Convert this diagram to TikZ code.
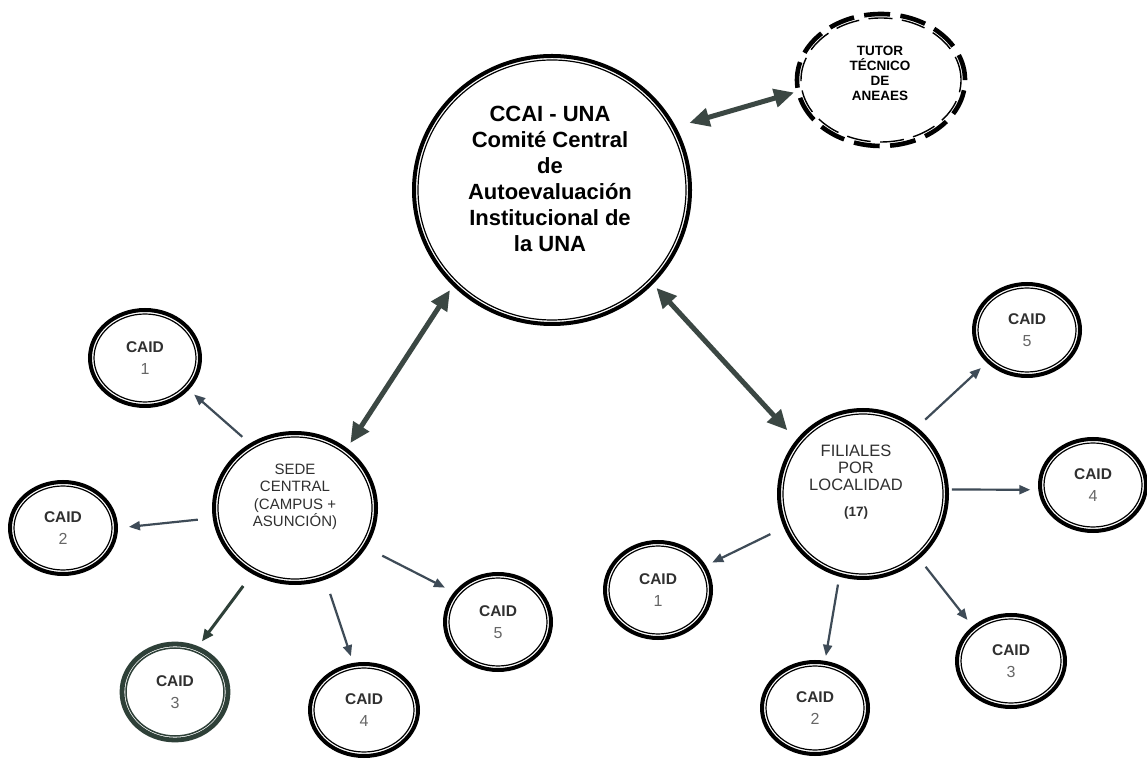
\documentclass[tikz,border=0pt]{standalone}
\usepackage{fontspec}
\setmainfont{Liberation Sans}
\usetikzlibrary{shapes.geometric,arrows.meta}
\definecolor{arrowdark}{HTML}{3B4743}
\definecolor{arrowblue}{HTML}{3E4B57}
\definecolor{greenring}{HTML}{2E4038}
\definecolor{numgray}{HTML}{666666}
\definecolor{txtgray}{HTML}{303030}
% #1 outer style, #2 inner style, #3 name, #4 x, #5 y, #6 rx, #7 ry, #8 text
\newcommand\mkring[8]{%
  \node[outerring,#1,minimum width={2*#6-4},minimum height={2*#7-4}] (#3) at (#4,#5) {#8};
  \draw[innerring,#2] (#4,#5) ellipse ({#6-6} and {#7-6});
}
\newcommand\cnum[1]{{\mdseries\color{numgray}\fontsize{16}{22}\selectfont #1}}
\begin{document}
\begin{tikzpicture}[x=1pt,y=1pt,
  outerring/.style={ellipse, draw=black, line width=4pt, inner sep=0pt,
     font=\fontsize{15.5}{22}\selectfont\bfseries, text=txtgray, align=center},
  innerring/.style={draw=black, line width=1.2pt},
  dbl/.style={draw=arrowdark, line width=5pt,
     {Triangle[length=20pt,width=18pt]}-{Triangle[length=20pt,width=18pt]}},
  one/.style={draw=arrowblue, line width=2.2pt, -{Triangle[length=11pt,width=9pt]}},
  onegreen/.style={draw=greenring, line width=3pt, -{Triangle[length=12pt,width=10pt]}},
  greenout/.style={draw=greenring, line width=4.8pt},
  greenin/.style={draw=greenring, line width=1.5pt},
  dashout/.style={line width=4.6pt, dash pattern=on 26pt off 10.38pt},
  dashin/.style={line width=1.4pt, dash pattern=on 24pt off 9.5pt},
]
\useasboundingbox (0,0) rectangle (1147,760);
\fill[white] (0,0) rectangle (1147,760);

% main rings
\mkring{}{}{ccai}{552}{570}{140}{136}{}
\node[font=\fontsize{22}{26}\selectfont\bfseries, align=center] (ccaiT) at (550,581)
  {CCAI - UNA\\Comité Central\\de\\Autoevaluación\\Institucional de\\la UNA};

\mkring{dashout}{dashin}{tutor}{881}{680}{86}{68}{}
\node[font=\fontsize{13.5}{15}\selectfont\bfseries, align=center] (tutorT) at (880,687)
  {TUTOR\\TÉCNICO\\DE\\ANEAES};

\mkring{}{}{sede}{295}{252}{83}{77}{}
\node[font=\fontsize{15}{17.5}\selectfont, text=txtgray, align=center] (sedeT) at (295,263)
  {SEDE\\CENTRAL\\(CAMPUS +\\ASUNCIÓN)};

\mkring{}{}{fil}{863}{266}{86}{86}{}
\node[font=\fontsize{16.5}{16.8}\selectfont, text=txtgray, align=center] (filT) at (856,278)
  {FILIALES\\POR\\LOCALIDAD\\[9pt]{\fontsize{13.5}{15}\selectfont\bfseries (17)}};

% CAID rings, left group
\mkring{}{}{l1}{145}{402}{57}{50}{CAID\\\cnum{1}}
\mkring{}{}{l2}{63}{232}{55}{48}{CAID\\\cnum{2}}
\mkring{greenout}{greenin}{l3}{175}{68}{55}{50}{CAID\\\cnum{3}}
\mkring{}{}{l4}{364}{50}{56}{48}{CAID\\\cnum{4}}
\mkring{}{}{l5}{498}{138}{55}{50}{CAID\\\cnum{5}}

% CAID rings, right group
\mkring{}{}{r1}{658}{170}{55}{50}{CAID\\\cnum{1}}
\mkring{}{}{r2}{815}{52}{55}{48}{CAID\\\cnum{2}}
\mkring{}{}{r3}{1011}{99}{56}{48}{CAID\\\cnum{3}}
\mkring{}{}{r4}{1093}{275}{55}{48}{CAID\\\cnum{4}}
\mkring{}{}{r5}{1027}{430}{55}{48}{CAID\\\cnum{5}}

% double arrows
\draw[dbl, shorten <=14pt, shorten >=2pt] (ccai.27) -- (tutor.-172);
\draw[dbl, shorten <=5pt, shorten >=6pt] (ccai.-136) -- (sede.49);
\draw[dbl, shorten <=5pt, shorten >=13pt] (ccai.-43) -- (fil.141);

% single arrows, left
\draw[one, shorten <=10pt, shorten >=7pt] (sede.125) -- (l1.-36);
\draw[one, shorten <=15pt, shorten >=11pt] (sede.-173) -- (l2.0);
\draw[onegreen, shorten <=15pt, shorten >=6pt] (sede.-123) -- (l3.63);
\draw[one, shorten <=15pt, shorten >=7pt] (sede.-67) -- (l4.103);
\draw[one, shorten <=18pt, shorten >=10pt] (sede.-29) -- (l5.146);

% single arrows, right
\draw[one, shorten <=11pt, shorten >=8pt] (fil.51) -- (r5.-141);
\draw[one, shorten <=3pt, shorten >=8pt] (fil.3) -- (r4.-175);
\draw[one, shorten <=15pt, shorten >=7pt] (fil.-157) -- (r1.27);
\draw[one, shorten <=8pt, shorten >=5pt] (fil.-106) -- (r2.78);
\draw[one, shorten <=10pt, shorten >=8pt] (fil.-49) -- (r3.138);
\end{tikzpicture}
\end{document}
